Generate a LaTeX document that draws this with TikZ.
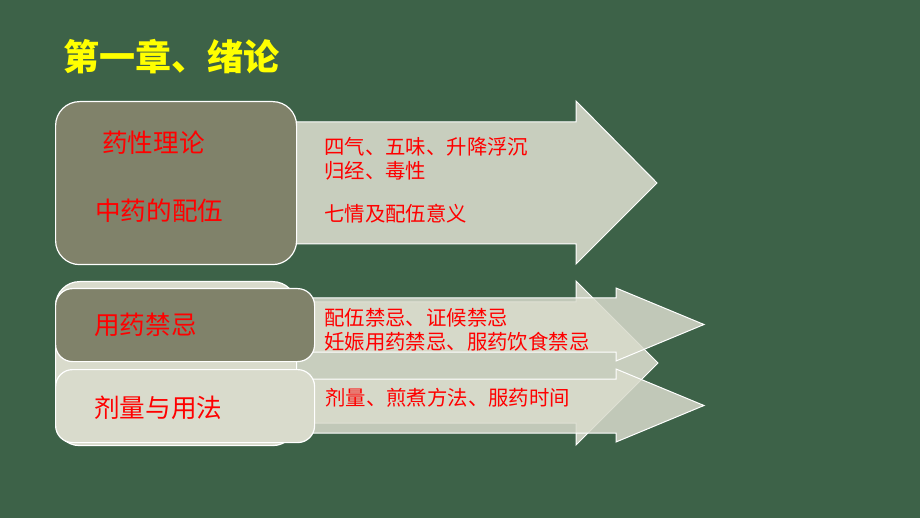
\documentclass[tikz,border=0pt]{standalone}
\usepackage{fontspec}
\setmainfont{Noto Sans CJK SC}
\usetikzlibrary{positioning}
\definecolor{bg}{RGB}{61,98,72}
\definecolor{olive}{RGB}{128,130,106}
\definecolor{pale}{RGB}{200,206,190}
\definecolor{light}{RGB}{217,219,204}
\definecolor{ttl}{RGB}{255,255,0}
\definecolor{txt}{RGB}{255,0,0}

\begin{document}
\begin{tikzpicture}[x=1pt,y=-1pt,
	box/.style={draw=white,line width=1.2pt,rounded corners=24pt,anchor=north west,inner sep=0pt},
	arr/.style={draw=white,line width=1pt,line join=miter},
	big/.style={text=txt,font=\fontsize{25.6}{30}\selectfont,anchor=west,inner sep=0pt},
	small/.style={text=txt,font=\fontsize{20.4}{24}\selectfont,anchor=west,inner sep=0pt,align=left}]
		
		\fill[bg] (0,0) rectangle (920,518);
		\useasboundingbox (0,0) rectangle (920,518);
		
		\node[text=ttl,font=\fontsize{36}{40}\selectfont\bfseries,anchor=west,inner sep=0pt] (title) at (63,57) {第一章、绪论};
		
		% upper block
		\draw[arr,fill=pale] (280,122) -- (576,122) -- (576,101) -- (657,183) -- (576,264) -- (576,244) -- (280,244) -- cycle;
		\node[box,fill=olive,minimum width=241pt,minimum height=163pt] (theory) at (55,101) {};
		\node[big] (xingli) at (102,143) {药性理论};
		\node[big] (peiwu) at (95,211) {中药的配伍};
		\node[small] (siqi) at (324,159) {四气、五味、升降浮沉\\归经、毒性};
		\node[small] (qiqing) at (324,214) {七情及配伍意义};
		
		% lower block
		\draw[arr,fill=pale] (280,302) -- (576,302) -- (576,281) -- (658,363) -- (576,445) -- (576,423) -- (280,423) -- cycle;
		\node[box,fill=light,minimum width=241pt,minimum height=164pt] (back) at (55,281) {};
		\foreach \a/\b in {288/361,369/442}
		\draw[arr,fill=light,fill opacity=0.85] (300,{\a+10}) -- (616,{\a+10}) -- (616,\a) -- (704,{(\a+\b)/2}) -- (616,\b) -- (616,{\b-9}) -- (300,{\b-9}) -- cycle;
		\node[box,fill=olive,rounded corners=17pt,minimum width=259pt,minimum height=73pt] (jinji) at (55,288) {};
		\node[box,fill=light,rounded corners=17pt,minimum width=259pt,minimum height=73pt] (yongfa) at (55,369) {};
		\node[big] (jinjilab) at (94,325) {用药禁忌};
		\node[big] (yongfalab) at (94,408) {剂量与用法};
		\node[small] (peijin) at (324,330) {配伍禁忌、证候禁忌\\妊娠用药禁忌、服药饮食禁忌};
		\node[small] (jiliang) at (325,398) {剂量、煎煮方法、服药时间};
		
\end{tikzpicture}
\end{document}
